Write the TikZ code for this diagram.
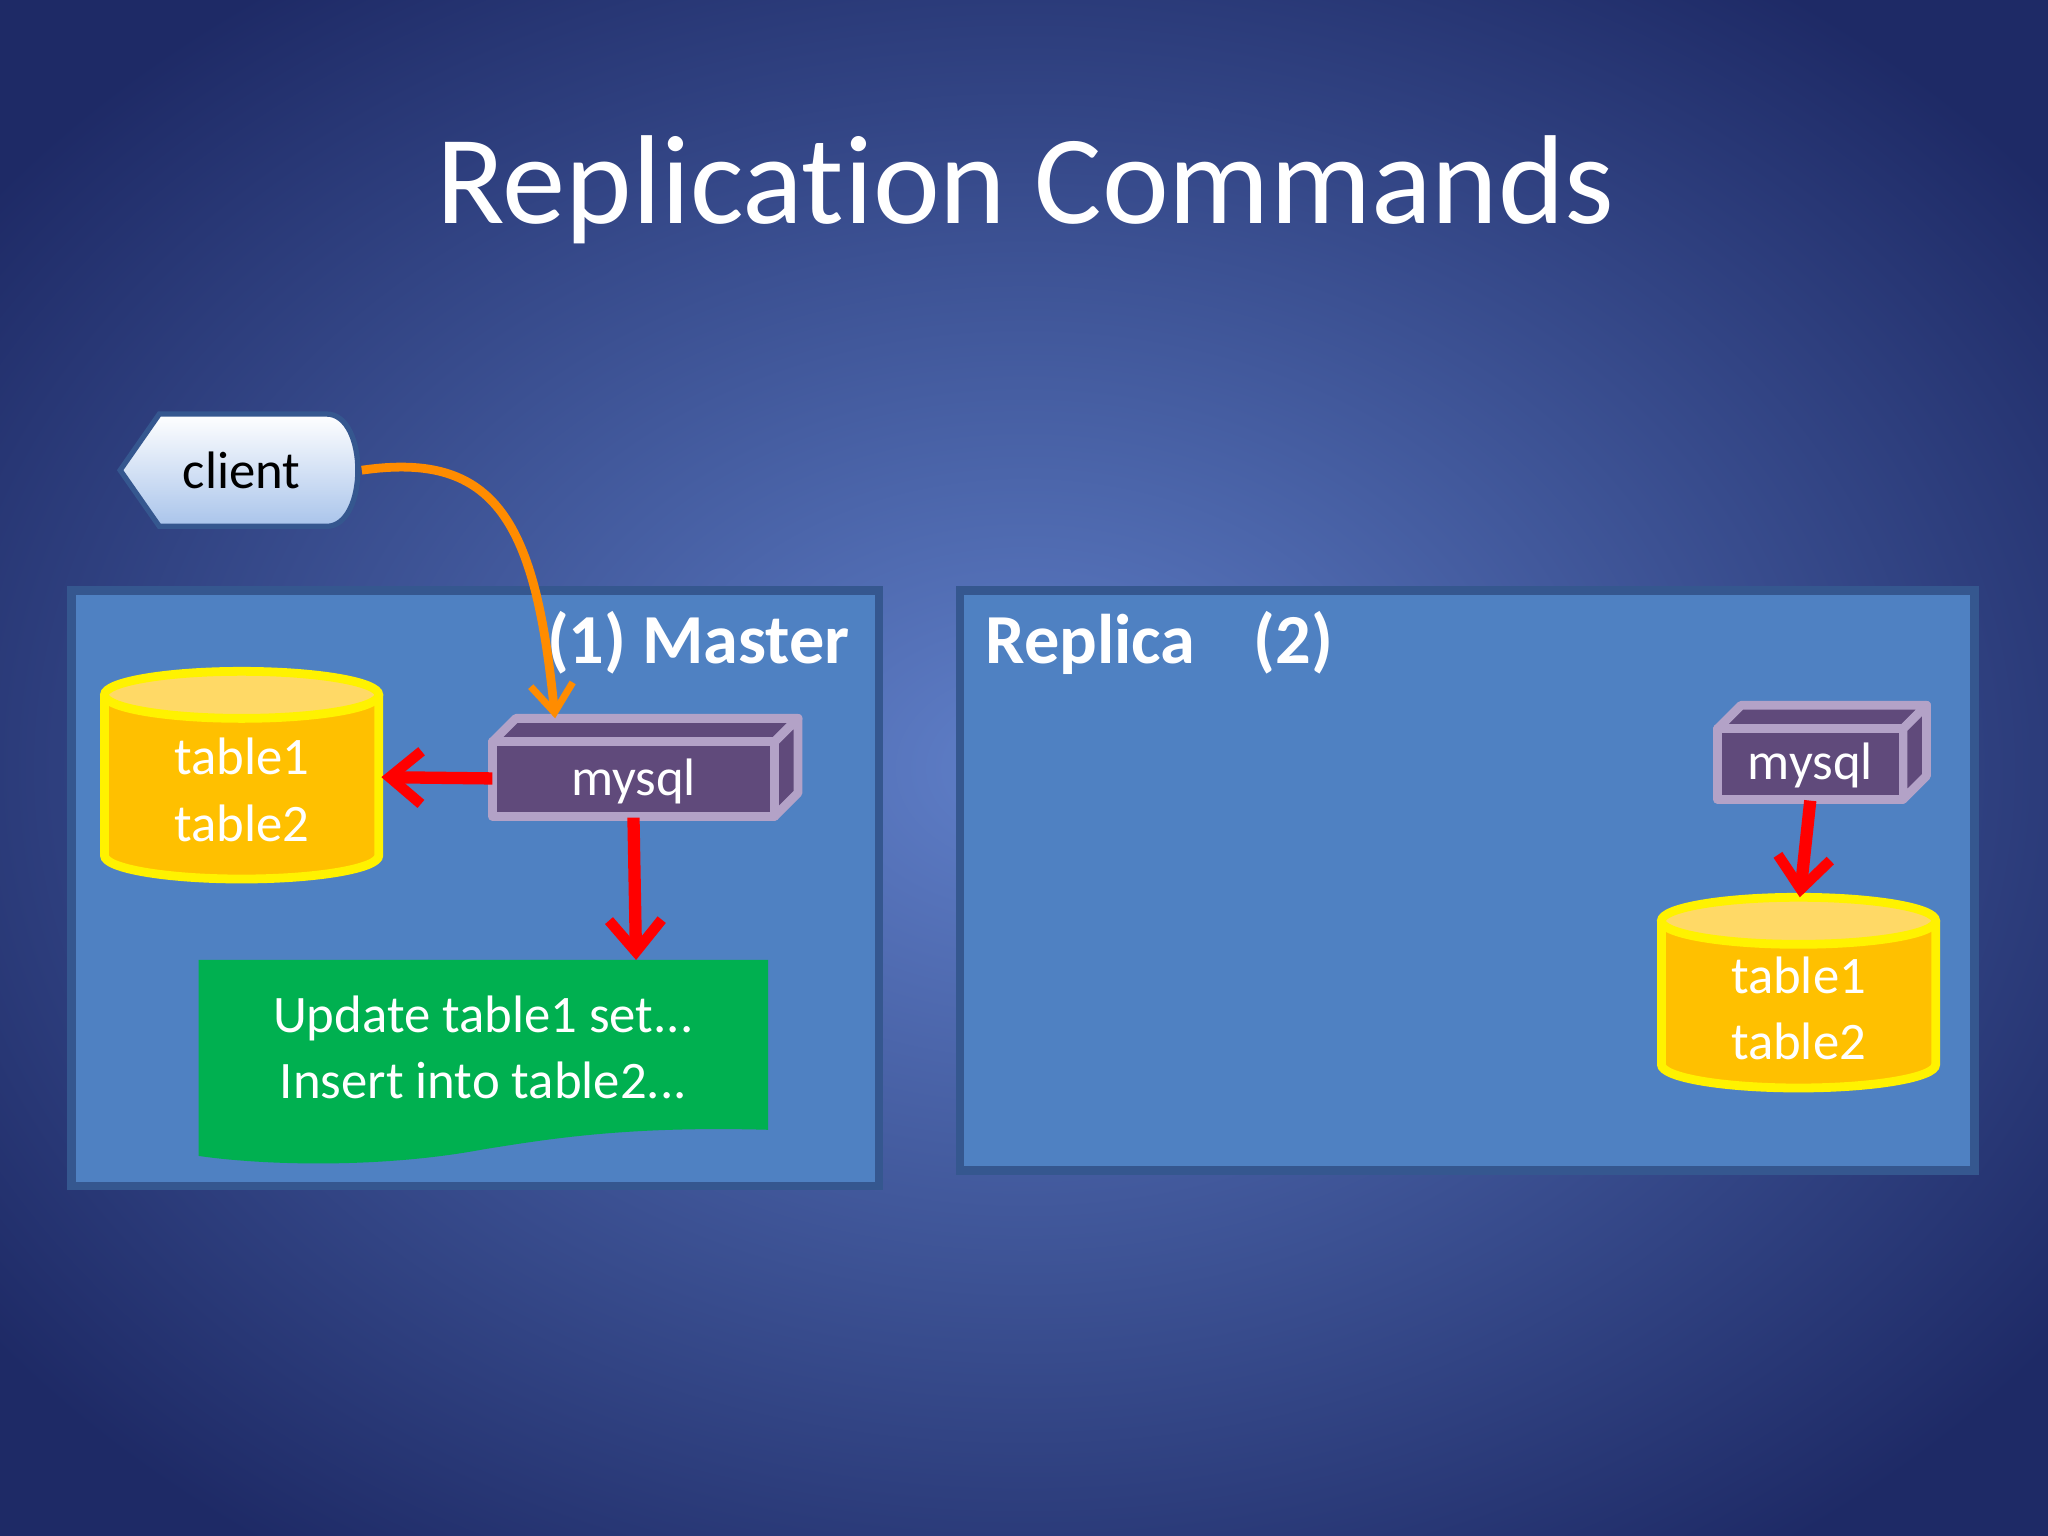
\documentclass[tikz,border=0pt]{standalone}
\usepackage{fontspec}
\setmainfont{Carlito}[Ligatures={NoCommon}]
\usetikzlibrary{arrows.meta}
\definecolor{bgin}{HTML}{5F7FC8}
\definecolor{bgout}{HTML}{1E2A66}
\definecolor{boxf}{HTML}{4F81C2}
\definecolor{boxd}{HTML}{35578F}
\definecolor{cylf}{HTML}{FFC000}
\definecolor{cylt}{HTML}{FFD966}
\definecolor{msf}{HTML}{604A7B}
\definecolor{msb}{HTML}{B3A2C7}
\definecolor{docf}{HTML}{00B050}
\definecolor{clb}{HTML}{A9C4EB}
\tikzset{
 panel/.style={fill=boxf,draw=boxd,line width=2.5pt},
 cyl/.style={fill=cylf,draw=yellow,line width=2.5pt},
 cyltop/.style={fill=cylt,draw=yellow,line width=2.5pt},
 ms/.style={fill=msf,draw=msb,line width=2.5pt,line join=round},
 lab/.style={text=white,font=\fontsize{15}{19}\selectfont,align=center},
 head/.style={text=white,font=\bfseries\fontsize{20}{24}\selectfont},
 red arrow/.style={draw=red,line width=3.5pt,-{Straight Barb[length=9pt,width=15pt,line width=3pt]}},
}
\begin{document}
\begin{tikzpicture}[x=0.013061cm,y=-0.013061cm]
\useasboundingbox (0,0) rectangle (1568,1176);
\shade[inner color=bgin,outer color=bgout] (-200,-150) rectangle (1768,1326);
\node[text=white,font=\fontsize{36}{40}\selectfont] (title) at (785,145) {Replication Commands};
% client
\shade[top color=white,bottom color=clb,draw=boxd,line width=1.5pt]
 (92,360)--(122,317)--(250,317) .. controls (282,317) and (282,403) .. (250,403)--(122,403)--cycle;
\node[font=\fontsize{15}{18}\selectfont] (client) at (185,360) {client};
\coordinate (cr) at (277,360);
% master panel
\draw[panel] (55,452) rectangle (673,908);
\node[head,anchor=east] (mlab) at (660,492) {(1) Master};
% master cylinder
\draw[cyl] (80,532)--(80,655) arc[start angle=180,end angle=0,x radius=105,y radius=18]--(290,532);
\draw[cyltop] (185,532) ellipse[x radius=105,y radius=18];
\node[lab,text=white] (cyl1) at (185,605) {table1\\table2};
\coordinate (cyl1r) at (292,595);
% master mysql
\draw[ms] (377,568)--(395,550)--(611,550)--(593,568)--cycle;
\draw[ms] (593,568)--(611,550)--(611,607)--(593,625)--cycle;
\draw[ms] (377,568) rectangle (593,625);
\node[lab] (ms1) at (485,598) {mysql};
\coordinate (ms1l) at (377,596);
\coordinate (ms1b) at (485,626);
\coordinate (ms1t) at (425,550);
% document
\fill[docf] (152,735)--(588,735)--(588,865) .. controls (480,862) and (420,872) .. (370,880) .. controls (290,895) and (200,892) .. (152,885) -- cycle;
\node[lab] (doc) at (370,802) {Update table1 set...\\Insert into table2...};
\coordinate (doct) at (487,735);
% replica panel
\draw[panel] (735,452) rectangle (1512,896);
\node[head,anchor=west] (rlab) at (745,492) {Replica\hspace{0.6em} (2)};
% replica mysql
\draw[ms] (1315,558)--(1333,540)--(1475,540)--(1457,558)--cycle;
\draw[ms] (1457,558)--(1475,540)--(1475,594)--(1457,612)--cycle;
\draw[ms] (1315,558) rectangle (1457,612);
\node[lab] (ms2) at (1386,586) {mysql};
\coordinate (ms2b) at (1386,613);
% replica cylinder
\draw[cyl] (1272,705)--(1272,815) arc[start angle=180,end angle=0,x radius=105,y radius=18]--(1482,705);
\draw[cyltop] (1377,705) ellipse[x radius=105,y radius=18];
\node[lab] (cyl2) at (1377,772) {table1\\table2};
\coordinate (cyl2t) at (1378,687);
% connectors
\draw[draw=orange!90!yellow,line width=2.5pt,-{Straight Barb[length=8pt,width=12pt,line width=2pt]}]
 (cr) .. controls (380,345) and (410,400) .. (ms1t);
\draw[red arrow] (ms1l) -- (cyl1r);
\draw[red arrow] (ms1b) -- (doct);
\draw[red arrow] (ms2b) -- (cyl2t);
\end{tikzpicture}
\end{document}
